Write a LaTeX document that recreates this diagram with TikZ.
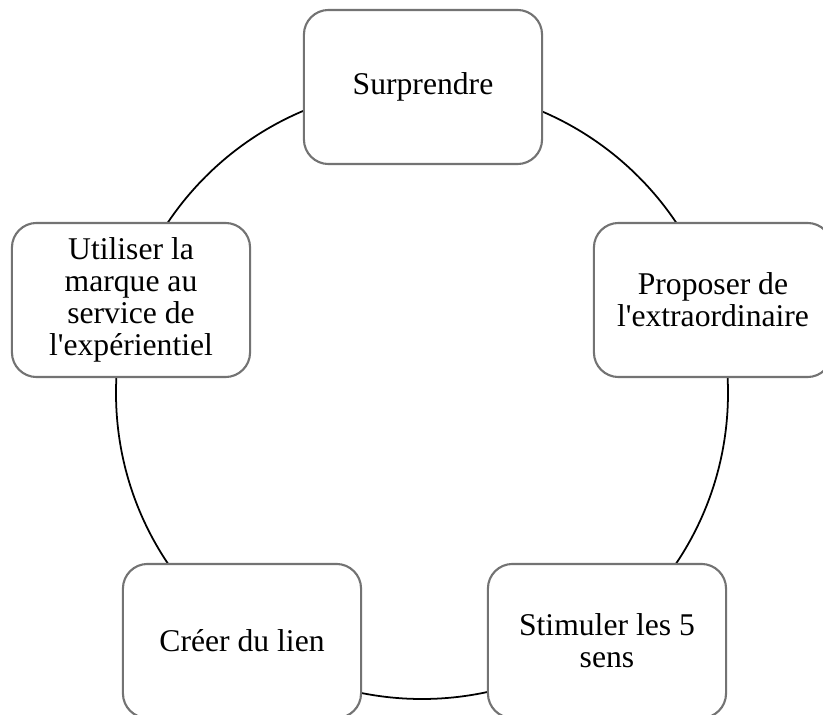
\documentclass[tikz,border=0pt]{standalone}
\usepackage{fontspec}
\setmainfont{Liberation Serif}
\usepackage{tikz}

\begin{document}
\begin{tikzpicture}[x=0.01cm,y=-0.01cm]
  \useasboundingbox (0,0) rectangle (823,715);

  \coordinate (centre) at (422,393);
  \draw[black, line width=0.5pt] (centre) circle [radius=306];

  \begin{scope}[every node/.style={draw=black!55, fill=white, line width=0.6pt,
      rounded corners=7pt, minimum width=2.38cm, minimum height=1.54cm,
      align=center, inner sep=0pt, font=\fontsize{9}{9.1}\selectfont}]
      \node (surprendre) at (423,87)  {Surprendre};
      \node (proposer)   at (713,300) {Proposer de\\l\textquotesingle extraordinaire};
      \node (stimuler)   at (607,641) {Stimuler les 5\\sens};
      \node (creer)      at (242,641) {Créer du lien};
      \node (utiliser)   at (131,300) {Utiliser la\\marque au\\service de\\l\textquotesingle expérientiel};
  \end{scope}

\end{tikzpicture}
\end{document}
